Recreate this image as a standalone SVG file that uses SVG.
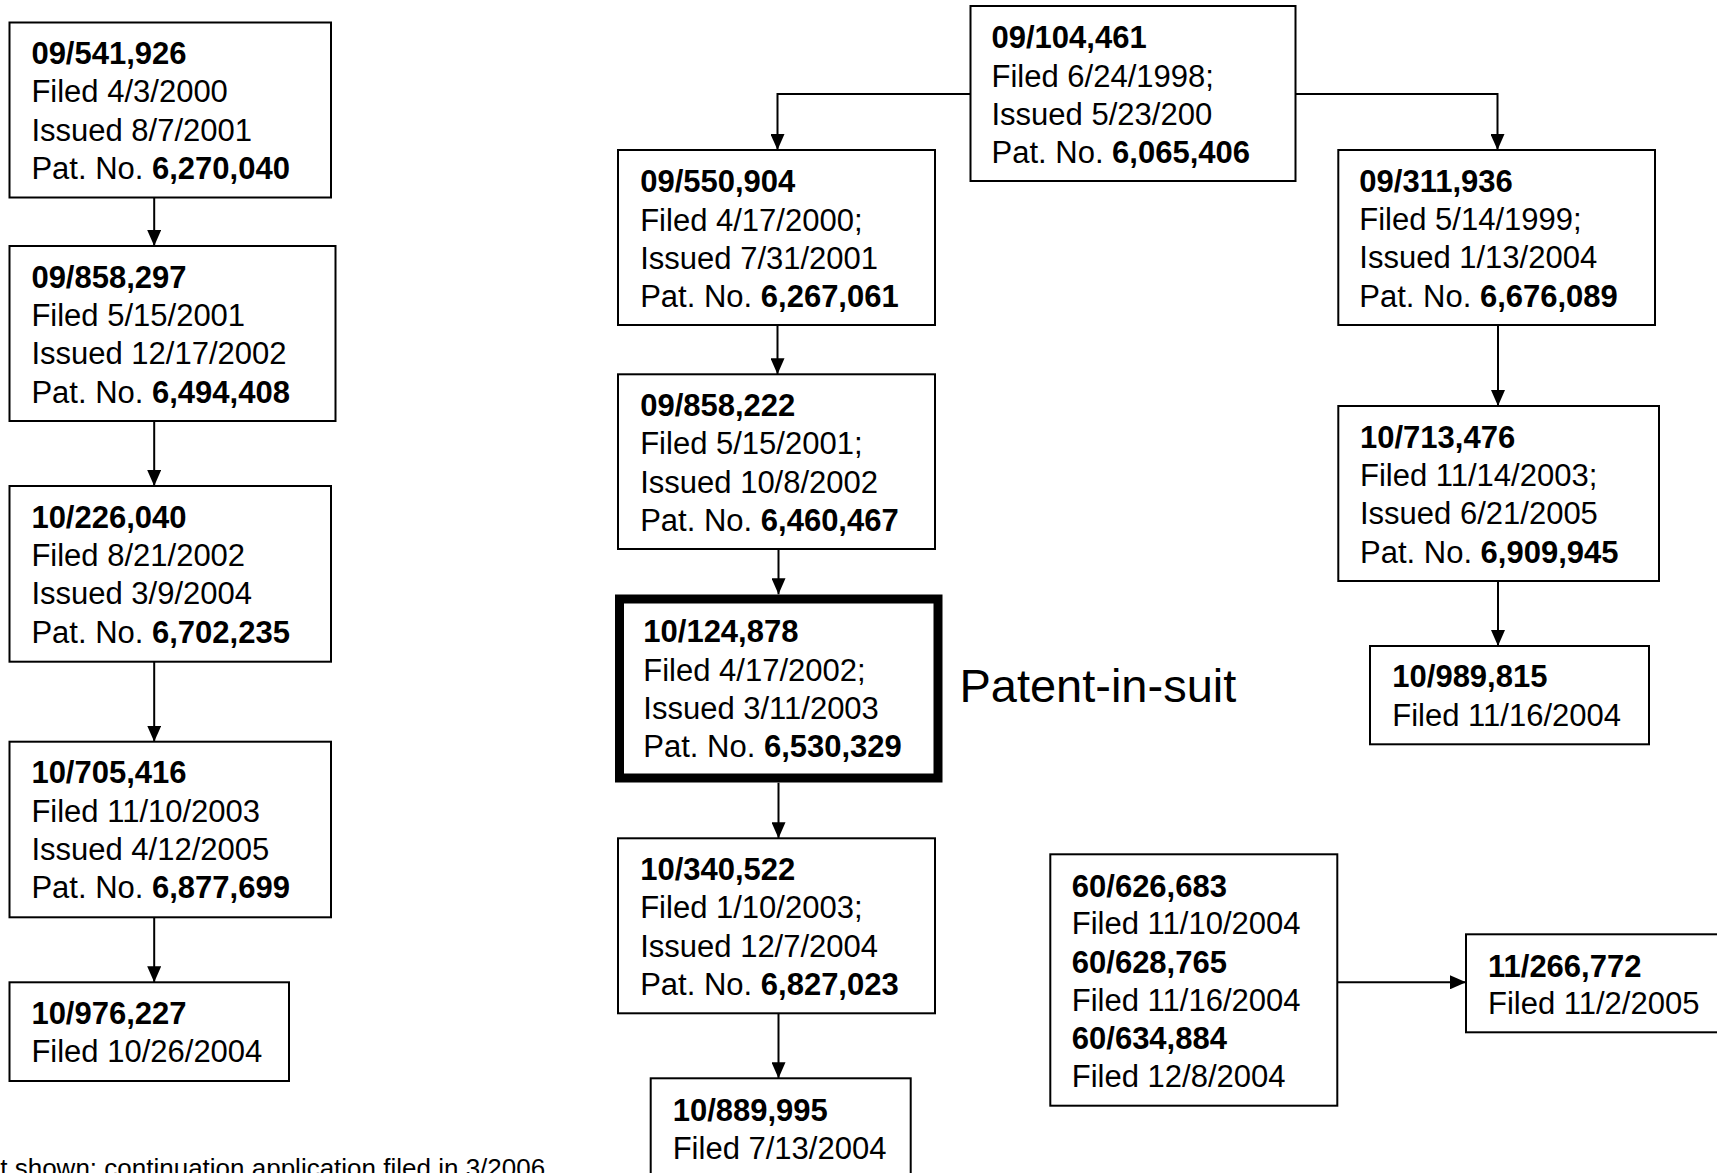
<svg xmlns="http://www.w3.org/2000/svg" width="1717" height="1173" viewBox="0 0 1717 1173">
<defs>
<style>
.box{fill:#fff;stroke:#000;stroke-width:2}
.thick{fill:#fff;stroke:#000;stroke-width:9}
.t{font-family:"Liberation Sans",Arial,sans-serif;font-size:31px;fill:#000}
.b{font-weight:bold}
.conn{fill:none;stroke:#000;stroke-width:2;marker-end:url(#arr)}
.big{font-family:"Liberation Sans",Arial,sans-serif;font-size:47px;fill:#000}
.note{font-family:"Liberation Sans",Arial,sans-serif;font-size:26px;fill:#000}
</style>
<marker id="arr" markerUnits="userSpaceOnUse" markerWidth="16" markerHeight="14" refX="16" refY="7" orient="auto">
<path d="M0,0 L16,7 L0,14 z" fill="#000"/>
</marker>
</defs>
<rect width="1717" height="1173" fill="#fff"/>

<g id="connectors">
<path class="conn" d="M154.2 197.5 V246"/>
<path class="conn" d="M154.2 421 V486"/>
<path class="conn" d="M154.2 661.7 V741.7"/>
<path class="conn" d="M154.2 917.3 V982.3"/>
<path class="conn" d="M970.5 94 H777.5 V150"/>
<path class="conn" d="M1295.5 94 H1497.5 V150"/>
<path class="conn" d="M777.5 325 V374.3"/>
<path class="conn" d="M778.5 549 V594.3"/>
<path class="conn" d="M778.5 782.7 V838.3"/>
<path class="conn" d="M778.5 1013.3 V1078.3"/>
<path class="conn" d="M1498 325 V406"/>
<path class="conn" d="M1498 581 V646"/>
<path class="conn" d="M1337.4 982.3 H1466"/>
</g>

<g id="n09_541_926">
<rect class="box" x="9.5" y="22.5" width="321.5" height="175"/>
<text class="t" x="31.4" y="64"><tspan class="b">09/541,926</tspan><tspan x="31.4" y="102.3">Filed 4/3/2000</tspan><tspan x="31.4" y="140.7">Issued 8/7/2001</tspan><tspan x="31.4" y="179">Pat. No. <tspan class="b">6,270,040</tspan></tspan></text>
</g>
<g id="n09_858_297">
<rect class="box" x="9.5" y="246" width="326" height="175"/>
<text class="t" x="31.4" y="287.7"><tspan class="b">09/858,297</tspan><tspan x="31.4" y="326">Filed 5/15/2001</tspan><tspan x="31.4" y="364.3">Issued 12/17/2002</tspan><tspan x="31.4" y="402.7">Pat. No. <tspan class="b">6,494,408</tspan></tspan></text>
</g>
<g id="n10_226_040">
<rect class="box" x="9.5" y="486" width="321.5" height="175.7"/>
<text class="t" x="31.4" y="527.7"><tspan class="b">10/226,040</tspan><tspan x="31.4" y="566">Filed 8/21/2002</tspan><tspan x="31.4" y="604.3">Issued 3/9/2004</tspan><tspan x="31.4" y="642.7">Pat. No. <tspan class="b">6,702,235</tspan></tspan></text>
</g>
<g id="n10_705_416">
<rect class="box" x="9.5" y="741.7" width="321.5" height="175.6"/>
<text class="t" x="31.4" y="783.4"><tspan class="b">10/705,416</tspan><tspan x="31.4" y="821.7">Filed 11/10/2003</tspan><tspan x="31.4" y="860">Issued 4/12/2005</tspan><tspan x="31.4" y="898.4">Pat. No. <tspan class="b">6,877,699</tspan></tspan></text>
</g>
<g id="n10_976_227">
<rect class="box" x="9.5" y="982.3" width="279.5" height="98.7"/>
<text class="t" x="31.4" y="1024"><tspan class="b">10/976,227</tspan><tspan x="31.4" y="1062.4">Filed 10/26/2004</tspan></text>
</g>

<g id="n09_104_461">
<rect class="box" x="970.5" y="6" width="325" height="175"/>
<text class="t" x="991.5" y="48.3"><tspan class="b">09/104,461</tspan><tspan x="991.5" y="86.7">Filed 6/24/1998;</tspan><tspan x="991.5" y="125">Issued 5/23/200</tspan><tspan x="991.5" y="163">Pat. No. <tspan class="b">6,065,406</tspan></tspan></text>
</g>
<g id="n09_550_904">
<rect class="box" x="618" y="150" width="317" height="175"/>
<text class="t" x="640.2" y="192.3"><tspan class="b">09/550,904</tspan><tspan x="640.2" y="230.7">Filed 4/17/2000;</tspan><tspan x="640.2" y="269">Issued 7/31/2001</tspan><tspan x="640.2" y="307.3">Pat. No. <tspan class="b">6,267,061</tspan></tspan></text>
</g>
<g id="n09_858_222">
<rect class="box" x="618" y="374.3" width="317" height="174.7"/>
<text class="t" x="640.2" y="416"><tspan class="b">09/858,222</tspan><tspan x="640.2" y="454.3">Filed 5/15/2001;</tspan><tspan x="640.2" y="492.7">Issued 10/8/2002</tspan><tspan x="640.2" y="531">Pat. No. <tspan class="b">6,460,467</tspan></tspan></text>
</g>
<g id="n10_124_878">
<rect class="thick" x="619.5" y="599" width="318.5" height="179"/>
<text class="t" x="643.3" y="642.3"><tspan class="b">10/124,878</tspan><tspan x="643.3" y="680.7">Filed 4/17/2002;</tspan><tspan x="643.3" y="719">Issued 3/11/2003</tspan><tspan x="643.3" y="757.3">Pat. No. <tspan class="b">6,530,329</tspan></tspan></text>
<text class="big" x="959.4" y="701.7">Patent-in-suit</text>
</g>
<g id="n10_340_522">
<rect class="box" x="618" y="838.3" width="317" height="175"/>
<text class="t" x="640.2" y="880"><tspan class="b">10/340,522</tspan><tspan x="640.2" y="918.3">Filed 1/10/2003;</tspan><tspan x="640.2" y="956.7">Issued 12/7/2004</tspan><tspan x="640.2" y="995">Pat. No. <tspan class="b">6,827,023</tspan></tspan></text>
</g>
<g id="n10_889_995">
<rect class="box" x="650.7" y="1078.3" width="260" height="120"/>
<text class="t" x="672.7" y="1120.7"><tspan class="b">10/889,995</tspan><tspan x="672.7" y="1159">Filed 7/13/2004</tspan></text>
</g>

<g id="n09_311_936">
<rect class="box" x="1338.3" y="150" width="316.7" height="175"/>
<text class="t" x="1359.3" y="191.7"><tspan class="b">09/311,936</tspan><tspan x="1359.3" y="230">Filed 5/14/1999;</tspan><tspan x="1359.3" y="268.3">Issued 1/13/2004</tspan><tspan x="1359.3" y="306.7">Pat. No. <tspan class="b">6,676,089</tspan></tspan></text>
</g>
<g id="n10_713_476">
<rect class="box" x="1338.3" y="406" width="320.7" height="175"/>
<text class="t" x="1360" y="447.7"><tspan class="b">10/713,476</tspan><tspan x="1360" y="486">Filed 11/14/2003;</tspan><tspan x="1360" y="524.3">Issued 6/21/2005</tspan><tspan x="1360" y="562.7">Pat. No. <tspan class="b">6,909,945</tspan></tspan></text>
</g>
<g id="n10_989_815">
<rect class="box" x="1370" y="646" width="279" height="98.3"/>
<text class="t" x="1392.3" y="687.3"><tspan class="b">10/989,815</tspan><tspan x="1392.3" y="726">Filed 11/16/2004</tspan></text>
</g>

<g id="n60_provisionals">
<rect class="box" x="1050.3" y="854.3" width="287" height="251.4"/>
<text class="t" x="1071.8" y="896.7"><tspan class="b">60/626,683</tspan><tspan x="1071.8" y="934.3">Filed 11/10/2004</tspan><tspan x="1071.8" y="972.7" class="b">60/628,765</tspan><tspan x="1071.8" y="1011">Filed 11/16/2004</tspan><tspan x="1071.8" y="1049.3" class="b">60/634,884</tspan><tspan x="1071.8" y="1087.3">Filed 12/8/2004</tspan></text>
</g>
<g id="n11_266_772">
<rect class="box" x="1466" y="934.3" width="260" height="98"/>
<text class="t" x="1488" y="976.5"><tspan class="b">11/266,772</tspan><tspan x="1488" y="1014">Filed 11/2/2005</tspan></text>
</g>

<text class="note" x="-33" y="1177">Not shown: continuation application filed in 3/2006</text>
</svg>
